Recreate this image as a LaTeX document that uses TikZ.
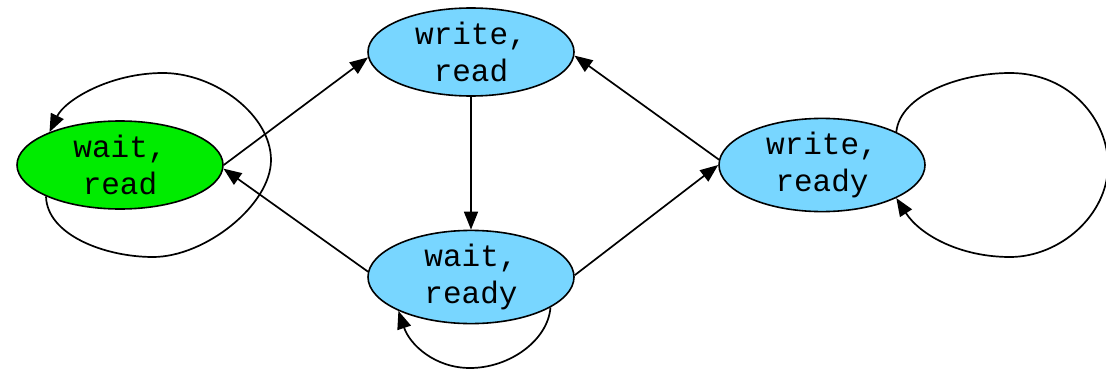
\documentclass[tikz,border=0pt]{standalone}
\usepackage{fontspec}
\newfontfamily\statefont{Liberation Mono}
\usetikzlibrary{shapes.geometric,arrows.meta}
\definecolor{stategreen}{RGB}{0,236,0}
\definecolor{stateblue}{RGB}{120,214,255}
\tikzset{
  state/.style={ellipse, draw=black, line width=1.6pt, minimum width=206pt,
    minimum height=88pt, inner sep=0pt, align=center,
    font=\statefont\fontsize{31}{37}\selectfont},
  trans/.style={line width=1.7pt, -{Triangle[length=18pt,width=14pt]}},
}
\begin{document}
\begin{tikzpicture}[x=1pt,y=-1pt]
\useasboundingbox (0,0) rectangle (1106,369);

% states
\node[state, fill=stategreen] (wr)  at (120,165) {wait,\\read};
\node[state, fill=stateblue]  (wrr) at (471,52)  {write,\\read};
\node[state, fill=stateblue]  (wy)  at (471,277) {wait,\\ready};
\node[state, fill=stateblue]  (wry) at (822,165) {write,\\ready};

% transitions between states
\draw[trans] (wr.east) -- (wrr.183);
\draw[trans] (wy.177) -- (wr.358);
\draw[trans] (wrr.south) -- (wy.north);
\draw[trans] (wy.1) -- (wry.west);
\draw[trans] (wry.177) -- (wrr.358);

% self loops
\draw[trans] (wr.203) .. controls (47,235) and (105,257) .. (153,257)
  .. controls (205,257) and (271,205) .. (271,160)
  .. controls (271,115) and (215,73) .. (163,73)
  .. controls (110,73) and (65,100) .. (wr.155);
\draw[trans] (wy.339) .. controls (548,340) and (510,368) .. (470,368)
  .. controls (435,368) and (410,345) .. (wy.205);
\draw[trans] (wry.24) .. controls (900,95) and (960,73) .. (1010,73)
  .. controls (1070,73) and (1108,120) .. (1108,165)
  .. controls (1108,215) and (1060,257) .. (1010,257)
  .. controls (960,257) and (920,235) .. (wry.336);
\end{tikzpicture}
\end{document}
